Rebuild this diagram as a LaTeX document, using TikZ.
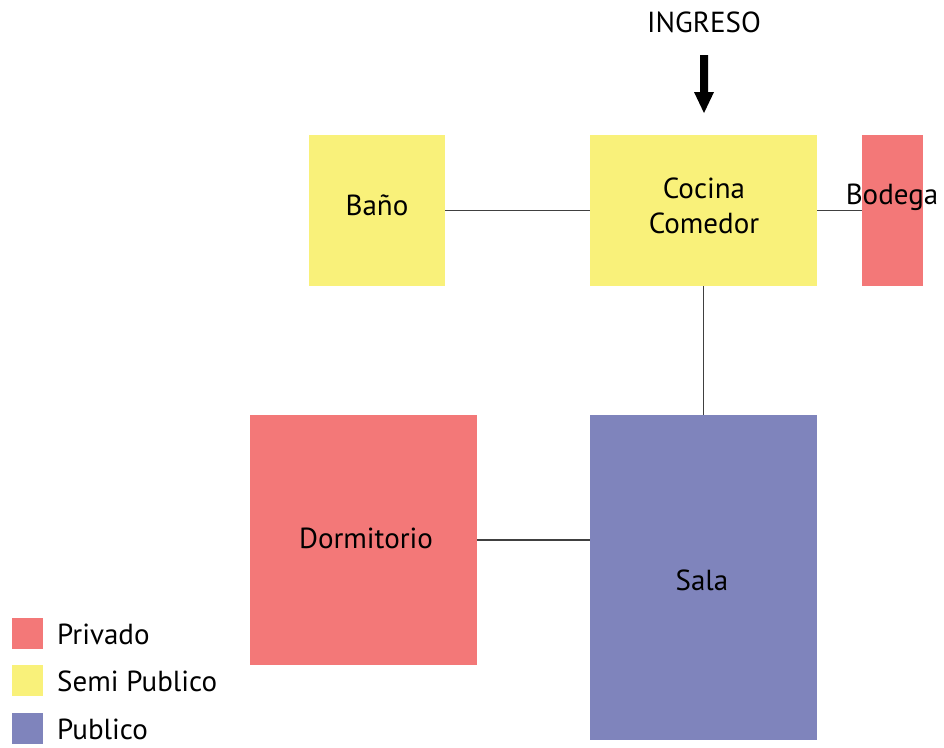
\documentclass[tikz,border=0pt]{standalone}
\usepackage{fontspec}
\setmainfont{PT Sans}
\definecolor{privado}{HTML}{F37878}
\definecolor{semi}{HTML}{F9F17A}
\definecolor{publico}{HTML}{7F84BC}
\begin{document}
\begin{tikzpicture}[x=1pt,y=-1pt,
  room/.style={draw=none,minimum width=#1,inner sep=0pt},
  txt/.style={font=\fontsize{29}{35}\selectfont,inner sep=0pt,align=center},
  lbl/.style={font=\fontsize{29}{32}\selectfont,inner sep=0pt,anchor=west},
  conn/.style={draw=black!75,line width=1.2pt}]
\useasboundingbox (0,0) rectangle (944,747);
\fill[white] (0,0) rectangle (944,747);
% rooms
\node[room=136pt,minimum height=151pt,fill=semi] (bano) at (377,210.5) {};
\node[room=227pt,minimum height=151pt,fill=semi] (cocina) at (703.5,210.5) {};
\node[room=61pt,minimum height=151pt,fill=privado] (bodega) at (892.5,210.5) {};
\node[room=227pt,minimum height=325pt,fill=publico] (sala) at (703.5,577.5) {};
\node[room=227pt,minimum height=250pt,fill=privado] (dorm) at (363.5,540) {};
% connectors
\draw[conn] (bano.east) -- (cocina.west);
\draw[conn] (cocina.east) -- (bodega.west);
\draw[conn] (cocina.south) -- (sala.north);
\draw[conn] (dorm.east) -- (dorm.east -| sala.west);
% texts
\node[txt] (banot) at (377,205) {Baño};
\node[txt] (cocinat) at (704,206) {Cocina\\Comedor};
\node[txt] (bodegat) at (892,197) {Bodega};
\node[txt] (salat) at (702,580) {Sala};
\node[txt] (dormt) at (366,538) {Dormitorio};
\node[txt] (ingreso) at (704,22) {INGRESO};
% arrow
\fill[black] (700,55) -- (708,55) -- (708,92) -- (714,92) -- (704,113) -- (694,92) -- (700,92) -- cycle;
% legend
\node[fill=privado,minimum size=31pt,inner sep=0pt] (lp) at (27.5,633.5) {};
\node[fill=semi,minimum size=31pt,inner sep=0pt] (ls) at (27.5,680.5) {};
\node[fill=publico,minimum size=31pt,inner sep=0pt] (lu) at (27.5,728.5) {};
\node[lbl] (lpt) at (57,634) {Privado};
\node[lbl] (lst) at (57,681) {Semi Publico};
\node[lbl] (lut) at (57,729) {Publico};
\end{tikzpicture}
\end{document}
